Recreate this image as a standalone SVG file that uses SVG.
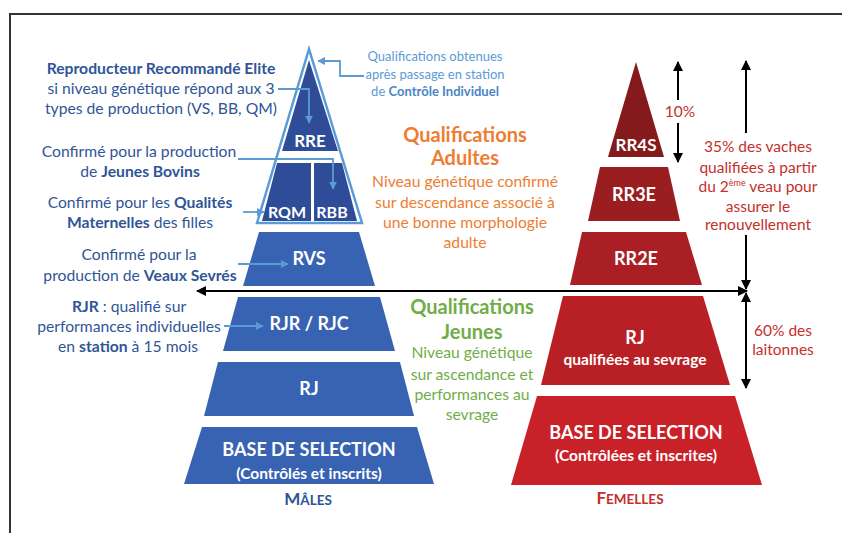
<svg xmlns="http://www.w3.org/2000/svg" width="842" height="533" viewBox="0 0 842 533">
<defs>
<style>
text{font-family:Lato,"Open Sans","Liberation Sans",sans-serif;text-anchor:middle}
.lbl{font-size:15.7px;fill:#2f5597}
.b{font-weight:bold}
.w{fill:#fff;font-weight:bold}
.lb{font-size:13px;fill:#5b9bd5}
.or{fill:#ed7d31}
.gr{fill:#70ad47}
.rd{fill:#c4302b;font-size:15.5px}
.blk{stroke:#000;stroke-width:2;fill:none}
.bl{stroke:#5b9bd5;stroke-width:1.8;fill:none}
</style>
<marker id="ab" viewBox="0 0 10 10" refX="9" refY="5" markerWidth="5" markerHeight="5" orient="auto-start-reverse"><path d="M0,0L10,5L0,10z" fill="#000"/></marker>
<marker id="al" viewBox="0 0 10 10" refX="9" refY="5" markerWidth="4.5" markerHeight="4.5" orient="auto"><path d="M0,0L10,5L0,10z" fill="#5b9bd5"/></marker>
</defs>
<rect x="0" y="0" width="842" height="533" fill="#fff"/>
<rect x="10" y="14" width="850" height="540" fill="none" stroke="#333" stroke-width="2"/>

<g id="male-outline"><polygon points="309,49 257,223 362,223" fill="#fff" stroke="#5b9bd5" stroke-width="2.5"/></g>
<g id="RRE"><polygon points="309,60 282,151 338,151" fill="#2e4c97"/><text class="w" x="310" y="147" font-size="17">RRE</text></g>
<g id="RQM"><polygon points="277,163 311,163 311,221 262,221" fill="#2e4c97"/><text class="w" x="287" y="218" font-size="16">RQM</text></g>
<g id="RBB"><polygon points="314,163 342,163 357,221 314,221" fill="#2e4c97"/><text class="w" x="332" y="218" font-size="16">RBB</text></g>
<g id="RVS"><polygon points="259,232 359,232 375,286 243,286" fill="#3863b2"/><text class="w" x="309" y="265" font-size="18">RVS</text></g>
<g id="RJR"><polygon points="238,297 380,297 395,351 223,351" fill="#3863b2"/><text class="w" x="309" y="330" font-size="18">RJR / RJC</text></g>
<g id="RJ-m"><polygon points="218,362 400,362 414,416 204,416" fill="#3863b2"/><text class="w" x="309" y="395" font-size="18">RJ</text></g>
<g id="BASE-m"><polygon points="202,427 417,427 434,484 184,484" fill="#3863b2"/><text class="w" x="309" y="456" font-size="18">BASE DE SELECTION</text><text class="w" x="309" y="479" font-size="15.5">(Contrôlés et inscrits)</text></g>
<g id="males"><text x="308" y="505" font-size="17" font-weight="bold" fill="#2f5597">M<tspan font-size="13.5">ÂLES</tspan></text></g>

<g id="RR4S"><polygon points="636,62 664,157 608,157" fill="#841a1b"/><text class="w" x="636" y="151" font-size="17">RR4S</text></g>
<g id="RR3E"><polygon points="600,167 668,167 680,221 588,221" fill="#9a1d20"/><text class="w" x="634" y="201" font-size="18">RR3E</text></g>
<g id="RR2E"><polygon points="582,232 686,232 702,285 570,285" fill="#a91f23"/><text class="w" x="636" y="265" font-size="18">RR2E</text></g>
<g id="RJ-f"><polygon points="563,296 703,296 730,385 541,385" fill="#b82025"/><text class="w" x="635" y="344" font-size="18">RJ</text><text class="w" x="635" y="365" font-size="15.5">qualifiées au sevrage</text></g>
<g id="BASE-f"><polygon points="537,396 735,396 762,485 511,485" fill="#c82228"/><text class="w" x="636" y="439" font-size="18">BASE DE SELECTION</text><text class="w" x="636" y="461" font-size="15.5">(Contrôlées et inscrites)</text></g>
<g id="femelles"><text x="630" y="504" font-size="17" font-weight="bold" fill="#c4302b">F<tspan font-size="13.5">EMELLES</tspan></text></g>

<g id="txt-rre"><text x="161" y="74" class="lbl b">Reproducteur Recommandé Elite</text><text x="161" y="94" class="lbl">si niveau génétique répond aux 3</text><text x="161" y="114" class="lbl">types de production (VS, BB, QM)</text></g>
<g id="txt-rbb"><text x="139" y="157" class="lbl">Confirmé pour la production</text><text x="140" y="177" class="lbl">de <tspan class="b">Jeunes Bovins</tspan></text></g>
<g id="txt-rqm"><text x="140" y="208" class="lbl">Confirmé pour les <tspan class="b">Qualités</tspan></text><text x="140" y="228" class="lbl"><tspan class="b">Maternelles</tspan> des filles</text></g>
<g id="txt-rvs"><text x="139" y="260" class="lbl">Confirmé pour la</text><text x="140" y="281" class="lbl">production de <tspan class="b">Veaux Sevrés</tspan></text></g>
<g id="txt-rjr"><text x="129" y="312" class="lbl"><tspan class="b">RJR</tspan> : qualifié sur</text><text x="129" y="332" class="lbl">performances individuelles</text><text x="128" y="352" class="lbl">en <tspan class="b">station</tspan> à 15 mois</text></g>

<g id="txt-station"><text x="435" y="61" class="lb">Qualifications obtenues</text><text x="435" y="79" class="lb">après passage en station</text><text x="435" y="96" class="lb">de <tspan font-weight="bold" fill="#4a86c5">Contrôle Individuel</tspan></text></g>
<g id="txt-adultes"><text x="465" y="142" class="or b" font-size="20">Qualifications</text><text x="465" y="165" class="or b" font-size="20">Adultes</text><text x="465" y="187" class="or" font-size="15.7">Niveau génétique confirmé</text><text x="465" y="208" class="or" font-size="15.7">sur descendance associé à</text><text x="465" y="228" class="or" font-size="15.7">une bonne morphologie</text><text x="465" y="248" class="or" font-size="15.7">adulte</text></g>
<g id="txt-jeunes"><text x="472" y="314" class="gr b" font-size="20">Qualifications</text><text x="472" y="339" class="gr b" font-size="20">Jeunes</text><text x="472" y="358" class="gr" font-size="15.7">Niveau génétique</text><text x="472" y="380" class="gr" font-size="15.7">sur ascendance et</text><text x="472" y="400" class="gr" font-size="15.7">performances au</text><text x="472" y="420" class="gr" font-size="15.7">sevrage</text></g>
<g id="txt-10"><text x="680" y="117" class="rd">10%</text></g>
<g id="txt-35"><text x="758" y="152" class="rd">35% des vaches</text><text x="758" y="173" class="rd">qualifiées à partir</text><text x="758" y="192" class="rd">du 2<tspan font-size="9" dy="-6">ème</tspan><tspan dy="6"> veau pour</tspan></text><text x="758" y="212" class="rd">assurer le</text><text x="758" y="230" class="rd">renouvellement</text></g>
<g id="txt-60"><text x="783" y="336" class="rd">60% des</text><text x="783" y="355" class="rd">laitonnes</text></g>

<g id="connectors">
<path class="bl" d="M278,89H309V123" marker-end="url(#al)"/>
<path class="bl" d="M238,159H333V189" marker-end="url(#al)"/>
<path class="bl" d="M243,212H264" marker-end="url(#al)"/>
<path class="bl" d="M238,264H288" marker-end="url(#al)"/>
<path class="bl" d="M224,326H263" marker-end="url(#al)"/>
<path class="bl" d="M364,76H340V61H318" marker-end="url(#al)"/>
<path class="blk" d="M197,291H747" marker-start="url(#ab)" marker-end="url(#ab)"/>
<path class="blk" d="M678,62V100" marker-start="url(#ab)"/>
<path class="blk" d="M678,123V162" marker-end="url(#ab)"/>
<path class="blk" d="M746,61V133" marker-start="url(#ab)"/>
<path class="blk" d="M746,235V289" marker-end="url(#ab)"/>
<path class="blk" d="M746,293V388" marker-start="url(#ab)" marker-end="url(#ab)"/>
</g>
</svg>
